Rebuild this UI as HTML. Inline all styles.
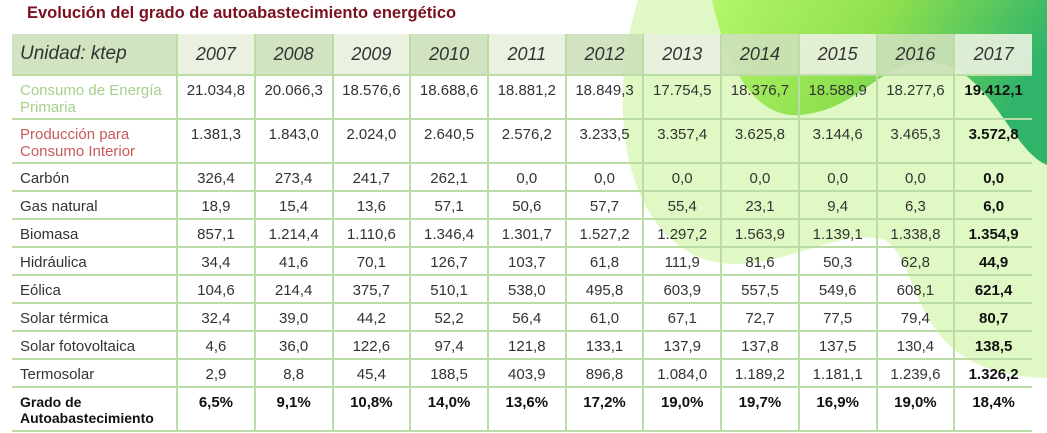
<!DOCTYPE html>
<html><head><meta charset="utf-8"><style>
body{margin:0;width:1047px;height:433px;background:#fff;position:relative;overflow:hidden;font-family:"Liberation Sans",sans-serif}
svg.bg{position:absolute;left:0;top:0}
h1{position:absolute;left:27px;top:4px;margin:0;font-size:16.5px;font-weight:bold;color:#7a1020;}
table{position:absolute;left:12px;top:34px;border-collapse:collapse;table-layout:fixed;width:1020px}
td{border:2px solid #bcdca6;text-align:center;font-size:15px;color:#333;padding:0;vertical-align:top;padding-top:6px;height:20px}
tr.h td{height:40px;padding:0;vertical-align:middle;font-style:italic;font-size:18px;color:#333;border-top:none}
tr.h td.a{background:rgba(205,224,186,.9)}
tr.h td.b{background:rgba(232,240,222,.92)}
td.l,tr.h td.l{text-align:left;padding-left:8px}
tr.t td{height:36px}
tr.t td.l{line-height:17px}
.g{color:#a6cf8c}.r{color:#c85a5a}
b{color:#111}
td:first-child{border-left:none}td:last-child{border-right:none}
</style></head><body>
<svg class="bg" width="1047" height="433">
<defs><linearGradient id="dg" x1="0" x2="1" y1="0" y2="0.3"><stop offset="0" stop-color="#b4f66a"/><stop offset="0.5" stop-color="#8ee04e"/><stop offset="1" stop-color="#30b46a"/></linearGradient></defs>
<path d="M638,0 C610,90 615,220 700,258 C770,282 830,225 885,240 C925,265 905,375 1047,378 L1047,0 Z" fill="#e0f9c4"/>
<path d="M712,0 C730,80 760,118 800,115 C860,110 880,60 930,62 C990,66 1010,150 1047,165 L1047,0 Z" fill="url(#dg)"/>
</svg>
<h1>Evolución del grado de autoabastecimiento energético</h1>
<table>
<colgroup><col style="width:165px"><col span="11" style="width:77.7px"></colgroup>
<tr class="h"><td class="a l" style="font-size:19px">Unidad: ktep</td><td class="b">2007</td><td class="a">2008</td><td class="b">2009</td><td class="a">2010</td><td class="b">2011</td><td class="a">2012</td><td class="b">2013</td><td class="a">2014</td><td class="b">2015</td><td class="a">2016</td><td class="b">2017</td></tr>
<tr class="t"><td class="l g">Consumo de Energía Primaria</td><td>21.034,8</td><td>20.066,3</td><td>18.576,6</td><td>18.688,6</td><td>18.881,2</td><td>18.849,3</td><td>17.754,5</td><td>18.376,7</td><td>18.588,9</td><td>18.277,6</td><td><b>19.412,1</b></td></tr>
<tr class="t"><td class="l r">Producción para Consumo Interior</td><td>1.381,3</td><td>1.843,0</td><td>2.024,0</td><td>2.640,5</td><td>2.576,2</td><td>3.233,5</td><td>3.357,4</td><td>3.625,8</td><td>3.144,6</td><td>3.465,3</td><td><b>3.572,8</b></td></tr>
<tr><td class="l">Carbón</td><td>326,4</td><td>273,4</td><td>241,7</td><td>262,1</td><td>0,0</td><td>0,0</td><td>0,0</td><td>0,0</td><td>0,0</td><td>0,0</td><td><b>0,0</b></td></tr>
<tr><td class="l">Gas natural</td><td>18,9</td><td>15,4</td><td>13,6</td><td>57,1</td><td>50,6</td><td>57,7</td><td>55,4</td><td>23,1</td><td>9,4</td><td>6,3</td><td><b>6,0</b></td></tr>
<tr><td class="l">Biomasa</td><td>857,1</td><td>1.214,4</td><td>1.110,6</td><td>1.346,4</td><td>1.301,7</td><td>1.527,2</td><td>1.297,2</td><td>1.563,9</td><td>1.139,1</td><td>1.338,8</td><td><b>1.354,9</b></td></tr>
<tr><td class="l">Hidráulica</td><td>34,4</td><td>41,6</td><td>70,1</td><td>126,7</td><td>103,7</td><td>61,8</td><td>111,9</td><td>81,6</td><td>50,3</td><td>62,8</td><td><b>44,9</b></td></tr>
<tr><td class="l">Eólica</td><td>104,6</td><td>214,4</td><td>375,7</td><td>510,1</td><td>538,0</td><td>495,8</td><td>603,9</td><td>557,5</td><td>549,6</td><td>608,1</td><td><b>621,4</b></td></tr>
<tr><td class="l">Solar térmica</td><td>32,4</td><td>39,0</td><td>44,2</td><td>52,2</td><td>56,4</td><td>61,0</td><td>67,1</td><td>72,7</td><td>77,5</td><td>79,4</td><td><b>80,7</b></td></tr>
<tr><td class="l">Solar fotovoltaica</td><td>4,6</td><td>36,0</td><td>122,6</td><td>97,4</td><td>121,8</td><td>133,1</td><td>137,9</td><td>137,8</td><td>137,5</td><td>130,4</td><td><b>138,5</b></td></tr>
<tr><td class="l">Termosolar</td><td>2,9</td><td>8,8</td><td>45,4</td><td>188,5</td><td>403,9</td><td>896,8</td><td>1.084,0</td><td>1.189,2</td><td>1.181,1</td><td>1.239,6</td><td><b>1.326,2</b></td></tr>
<tr class="t"><td class="l" style="font-weight:bold;color:#111;font-size:14px;line-height:16px">Grado de Autoabastecimiento</td><td><b>6,5%</b></td><td><b>9,1%</b></td><td><b>10,8%</b></td><td><b>14,0%</b></td><td><b>13,6%</b></td><td><b>17,2%</b></td><td><b>19,0%</b></td><td><b>19,7%</b></td><td><b>16,9%</b></td><td><b>19,0%</b></td><td><b>18,4%</b></td></tr>
</table>
</body></html>
